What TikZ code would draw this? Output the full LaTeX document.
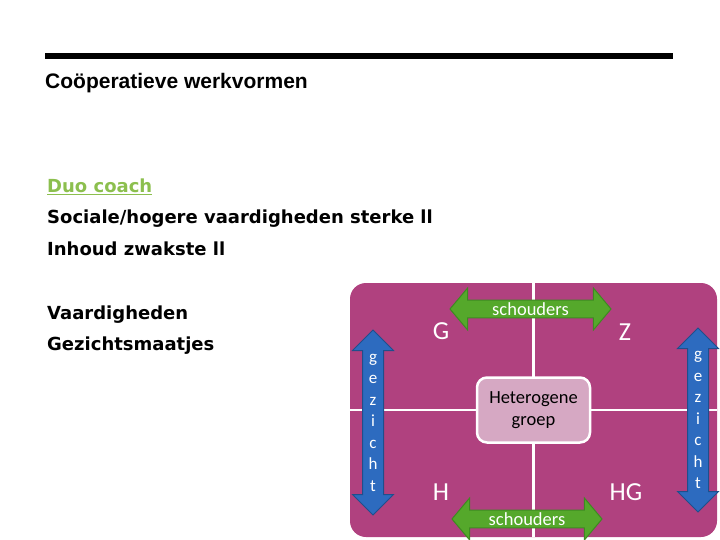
\documentclass[tikz,border=0pt]{standalone}
\usepackage{fontspec}
\setmainfont{DejaVu Sans}
\newfontfamily\calibrifont{Carlito}
\newfontfamily\arialfont{Liberation Sans}
\usetikzlibrary{shapes.arrows, positioning}

\definecolor{boardpink}{HTML}{B0417F}
\definecolor{groupfill}{HTML}{D6A8C3}
\definecolor{arrowgreen}{HTML}{55A82B}
\definecolor{greenedge}{HTML}{3E8A22}
\definecolor{arrowblue}{HTML}{2D6BBF}
\definecolor{blueedge}{HTML}{1E4F8C}
\definecolor{duogreen}{HTML}{8CBF4E}

\begin{document}
\begin{tikzpicture}[x=1pt,y=-1pt,
    listtext/.style={anchor=base west,inner sep=0pt,
        font=\bfseries\fontsize{18}{20}\selectfont},
    board/.style={rectangle,fill=boardpink,rounded corners=16pt,
        minimum width=367pt,minimum height=254pt,inner sep=0pt},
    groupbox/.style={rectangle,fill=groupfill,draw=white,line width=2.5pt,
        rounded corners=10pt,minimum width=113pt,minimum height=65pt,
        align=center,font=\calibrifont\fontsize{18.5}{22}\selectfont},
    cornerlbl/.style={text=white,inner sep=0pt,
        font=\calibrifont\fontsize{26}{28}\selectfont},
    hbar/.style={double arrow,double arrow head extend=12pt,
        double arrow tip angle=100,minimum height=161pt,minimum width=42pt,
        fill=arrowgreen,draw=greenedge,line width=1pt,
        inner xsep=1pt,inner ysep=2pt,
        text=white,font=\calibrifont\fontsize{18.5}{20}\selectfont},
    vbar/.style={double arrow,double arrow head extend=10pt,rotate=90,
        minimum height=185pt,minimum width=40pt,inner xsep=0pt,inner ysep=10pt,
        fill=arrowblue,draw=blueedge,line width=1pt},
    vletters/.style={text=white,align=center,inner sep=0pt,
        font=\calibrifont\fontsize{17}{21.5}\selectfont},
    divider/.style={white,line width=2.5pt}
]
\useasboundingbox (0,0) rectangle (720,540);
\fill[black] (45,53) rectangle (673,59);
\node[anchor=base west,inner sep=0pt,
      font=\arialfont\bfseries\fontsize{21}{24}\selectfont] (title)
    at (45,89) {Coöperatieve werkvormen};
\node[listtext,text=duogreen] (duo) at (47,193) {\underline{Duo coach}};
\node[listtext] (soc) at (47,224) {Sociale/hogere vaardigheden sterke ll};
\node[listtext] (inh) at (47,255) {Inhoud zwakste ll};
\node[listtext] (vaar) at (47,319) {Vaardigheden};
\node[listtext] (gez) at (47,350) {Gezichtsmaatjes};
% quadrant board
\node[board] (board) at (533.5,410) {};
\draw[divider] (board.north) -- (board.south);
\draw[divider] (board.west) -- (board.east);
\node[groupbox] (grp) at (board.center) {Heterogene\\groep};
\node[cornerlbl] (G) at (441,331) {G};
\node[cornerlbl] (Z) at (625,332) {Z};
\node[cornerlbl] (H) at (441,492) {H};
\node[cornerlbl] (HG) at (626,492) {HG};
% arrows
\node[hbar] (schtop) at (530.5,309) {schouders};
\node[hbar,minimum height=150pt] (schbot) at (527,519) {schouders};
\node[vbar] (gzleft) at (373,422.5) {};
\node[vbar,minimum height=184pt] (gzright) at (698,420) {};
\node[vletters] at (gzleft) {g\\e\\z\\i\\c\\h\\t};
\node[vletters] at (gzright) {g\\e\\z\\i\\c\\h\\t};
\end{tikzpicture}
\end{document}
